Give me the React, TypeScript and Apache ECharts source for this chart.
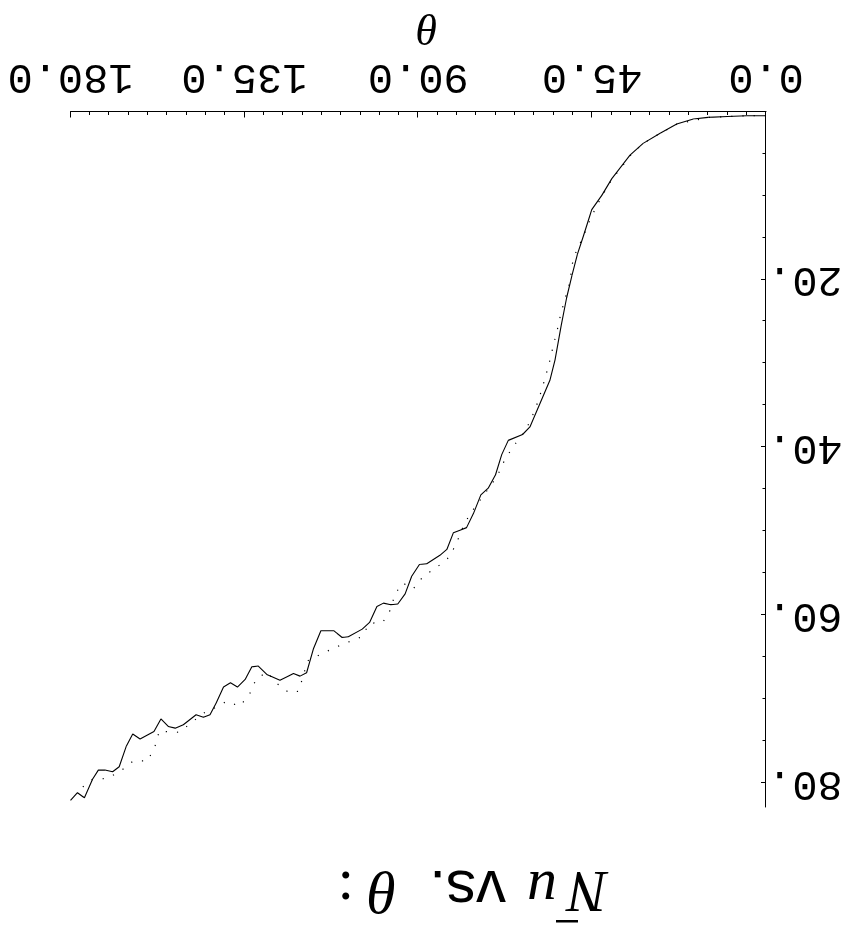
import React, { useEffect, useRef } from "react";
import * as echarts from "echarts";

// Solid curve: theta (deg) and Nu
const thetaSolid = [0, 5, 10, 15, 18.8, 23.1, 27.4, 31.8, 35.2, 39.9, 42.5, 45.1, 47.3, 48.8, 50.2, 51.6, 53.0, 54.6, 55.9, 58.5, 61.1, 63.0, 66.7, 68.4, 70.0, 71.9, 73.8, 75.7, 77.5, 79.2, 80.9, 82.6, 84.4, 87.8, 89.7, 91.7, 93.4, 95.3, 97.1, 99.0, 100.7, 102.6, 104.5, 108.1, 109.7, 111.8, 115.2, 117.1, 118.9, 120.6, 122.3, 125.8, 129.2, 131.4, 133.1, 134.8, 136.8, 138.6, 140.4, 142.3, 143.9, 145.6, 147.5, 150.8, 152.9, 154.7, 156.6, 158.4, 162.0, 163.9, 165.6, 167.4, 169.1, 171.1, 172.8, 174.3, 176.4, 178.2, 180];
const nuSolid = [0.5, 0.5, 0.6, 0.7, 0.9, 1.5, 2.6, 3.8, 5.2, 8.0, 10.0, 11.7, 14.9, 17.0, 19.5, 22.2, 25.5, 29.6, 32.0, 34.8, 37.6, 38.5, 39.2, 40.9, 43.3, 44.9, 45.7, 47.9, 49.6, 49.9, 50.2, 52.2, 52.9, 53.9, 54.0, 55.4, 57.5, 58.7, 58.8, 58.6, 59.0, 60.9, 61.7, 62.6, 62.7, 61.9, 61.9, 64.0, 66.9, 67.3, 67.0, 67.8, 67.1, 66.1, 66.2, 67.7, 68.6, 68.1, 68.6, 70.5, 71.9, 72.2, 71.9, 73.1, 73.5, 73.3, 72.4, 73.9, 74.8, 74.2, 75.7, 78.1, 78.7, 78.5, 78.5, 79.6, 81.8, 81.2, 82.1];

// Dotted curve
const thetaDot = [0, 5, 15, 23, 27.4, 31.8, 34.8, 39.9, 42.1, 44.0, 45.7, 47.3, 49.9, 50.8, 52.0, 53.1, 54.0, 55.0, 55.9, 57.0, 58.2, 59.5, 61.1, 63.2, 65.7, 67.8, 69.5, 71.9, 76.8, 78.8, 80.2, 82.2, 85.4, 88.7, 91.3, 94.0, 96.0, 97.2, 99.2, 102.6, 104.6, 108.4, 112.1, 115.7, 118.7, 119.7, 121.0, 123.4, 126.5, 129.2, 132.0, 133.7, 136.2, 139.6, 141.8, 145.5, 148.6, 151.8, 155.5, 157.0, 158.1, 160.0, 163.7, 167.0, 170.5, 174.3, 176.8, 178.5];
const nuDot = [0.5, 0.5, 0.7, 1.5, 2.6, 3.8, 5.1, 8.1, 9.8, 11.4, 13.1, 14.9, 17.5, 20.4, 22.3, 24.1, 26.0, 27.8, 29.6, 31.5, 33.4, 35.2, 37.0, 38.6, 40.1, 41.7, 43.4, 45.0, 48.1, 49.9, 51.6, 53.2, 54.4, 55.4, 56.9, 56.2, 57.5, 59.4, 60.9, 61.0, 62.6, 63.3, 64.0, 64.8, 65.5, 67.2, 69.1, 69.3, 68.2, 66.8, 67.7, 69.5, 70.9, 70.3, 70.9, 71.7, 72.8, 74.0, 73.9, 73.8, 75.6, 77.4, 77.4, 78.6, 79.5, 79.6, 80.5, 81.0];

// Ticks
const xTicks = [0, 45, 90, 135, 180];
const xTickLabels = ["0.0", "45.0", "90.0", "135.0", "180.0"];
const yTicks = [20, 40, 60, 80];
const yTickLabels = ["20.", "40.", "60.", "80."];
const yMinorTicks = [5, 10, 15, 25, 30, 35, 45, 50, 55, 65, 70, 75];

const MONO = "'Liberation Mono', 'DejaVu Sans Mono', monospace";
const SERIF = "'Liberation Serif', 'DejaVu Serif', serif";
const SANS = "'Liberation Sans', 'DejaVu Sans', sans-serif";

export default function App() {
  const ref = useRef<HTMLDivElement>(null);
  useEffect(() => {
    const chart = echarts.init(ref.current as HTMLDivElement, null, { renderer: "svg" });
    const black = "#000";
    chart.setOption({
      animation: false,
      backgroundColor: "#fff",
      grid: { left: 80, right: 70.5, top: 124, bottom: 111.5, containLabel: false },
      xAxis: {
        type: "value",
        min: 0,
        max: 180,
        interval: 45,
        axisLine: { show: true, lineStyle: { color: black, width: 1 } },
        axisTick: { show: true, inside: true, length: 6, lineStyle: { color: black, width: 1 } },
        minorTick: { show: true, splitNumber: 9, length: 3.5, lineStyle: { color: black, width: 1 } },
        splitLine: { show: false },
        minorSplitLine: { show: false },
        axisLabel: {
          show: true,
          margin: 14,
          color: black,
          fontFamily: MONO,
          fontSize: 42,
          formatter: (v: number) => {
            const i = xTicks.indexOf(v);
            return i >= 0 ? xTickLabels[i] : "";
          },
        },
        name: "θ",
        nameLocation: "middle",
        nameGap: 59,
        nameTextStyle: { fontFamily: SERIF, fontStyle: "italic", fontSize: 44, color: black, padding: [0, 18, 0, 0] },
      },
      yAxis: [
        {
          type: "value",
          min: 0,
          max: 82.9,
          axisLine: { show: true, lineStyle: { color: black, width: 1 } },
          axisTick: { show: true, inside: true, length: 5, customValues: yTicks, lineStyle: { color: black, width: 1 } },
          axisLabel: {
            show: true,
            customValues: yTicks,
            margin: 1,
            color: black,
            fontFamily: MONO,
            fontSize: 42,
            formatter: (v: number) => {
              const i = yTicks.indexOf(v);
              return i >= 0 ? yTickLabels[i] : "";
            },
          },
          splitLine: { show: false },
        },
        {
          type: "value",
          min: 0,
          max: 82.9,
          position: "left",
          axisLine: { show: false },
          axisTick: { show: true, inside: true, length: 3.5, customValues: yMinorTicks, lineStyle: { color: black, width: 1 } },
          axisLabel: { show: false },
          splitLine: { show: false },
        },
      ],
      graphic: [
        { type: "text", x: 238, y: 39, style: { text: "N", font: `italic 60px ${SERIF}`, fill: black, verticalAlign: "middle" } },
        { type: "rect", shape: { x: 268, y: 8.5, width: 22, height: 2.5 }, style: { fill: black } },
        { type: "text", x: 289, y: 39, style: { text: "u", font: `italic 60px ${SERIF}`, fill: black, verticalAlign: "middle" } },
        { type: "text", x: 340, y: 39, style: { text: "vs.", font: `60px ${SANS}`, fill: black, verticalAlign: "middle" } },
        { type: "text", x: 449, y: 39, style: { text: "θ", font: `italic 60px ${SERIF}`, fill: black, verticalAlign: "middle" } },
        { type: "text", x: 492, y: 39, style: { text: ":", font: `60px ${SERIF}`, fill: black, verticalAlign: "middle" } },
      ],
      series: [
        {
          type: "line",
          xAxisIndex: 0,
          yAxisIndex: 0,
          data: thetaSolid.map((t, i) => [t, nuSolid[i]]),
          symbol: "none",
          showSymbol: false,
          lineStyle: { color: black, width: 1.1 },
          silent: true,
        },
        {
          type: "line",
          xAxisIndex: 0,
          yAxisIndex: 0,
          data: thetaDot.map((t, i) => [t, nuDot[i]]),
          symbol: "none",
          showSymbol: false,
          lineStyle: { color: black, width: 1.2, type: [1.2, 10] },
          silent: true,
        },
      ],
    });
    return () => chart.dispose();
  }, []);
  return (
    <div
      ref={ref}
      style={{
        position: "fixed",
        left: 0,
        top: 0,
        width: 846,
        height: 931,
        transform: "rotate(180deg)",
        background: "#fff",
      }}
    />
  );
}
